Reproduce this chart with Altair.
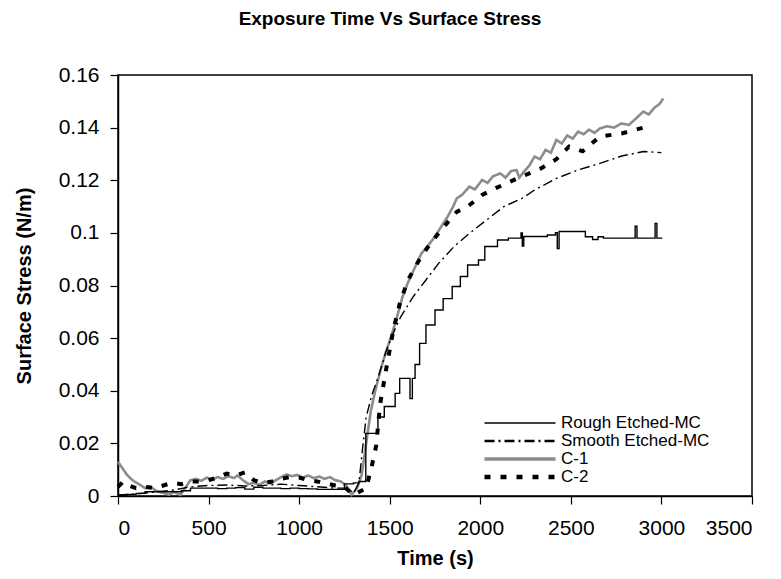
import altair as alt
import pandas as pd

series_names = ["Rough Etched-MC", "Smooth Etched-MC", "C-1", "C-2"]
series_colors = ["#000000", "#000000", "#8c8c8c", "#000000"]
series_dash = [[1, 0], [10, 4, 2, 4], [1, 0], [6, 10]]
series_width = [1.4, 1.4, 2.6, 4.0]
legend_width_range = [1.3, 4.7]

rough_t = [0, 50, 100, 150, 200, 250, 300, 350, 400, 450, 500, 550, 600, 650, 700, 750,
           800, 850, 900, 950, 1000, 1050, 1100, 1150, 1200, 1250, 1300, 1330, 1368, 1435,
           1470, 1530, 1555, 1612, 1625, 1640, 1665, 1700, 1750, 1795, 1845, 1890, 1930,
           1990, 2025, 2095, 2155, 2225, 2232, 2240, 2370, 2415, 2425, 2435, 2540, 2580,
           2620, 2650, 2680, 2855, 2865, 2965, 2975, 3005]
rough_v = [0.0004, 0.0006, 0.001, 0.0016, 0.0016, 0.0016, 0.0016, 0.002, 0.003, 0.003,
           0.003, 0.0028, 0.003, 0.0032, 0.0026, 0.0033, 0.003, 0.003, 0.0028, 0.003,
           0.0028, 0.0027, 0.0025, 0.0025, 0.0025, 0.0046, 0.005, 0.0055, 0.0238, 0.030,
           0.034, 0.039, 0.0447, 0.037, 0.0447, 0.050, 0.058, 0.065, 0.0707, 0.075, 0.0796,
           0.0834, 0.0878, 0.0897, 0.0948, 0.0973, 0.098, 0.100, 0.095, 0.0986, 0.0992,
           0.1001, 0.094, 0.1005, 0.1005, 0.0985, 0.0975, 0.0985, 0.098, 0.1025, 0.098,
           0.1036, 0.098, 0.098]

smooth_t = [0, 100, 200, 300, 400, 500, 600, 700, 800, 900, 1000, 1100, 1200, 1270, 1300,
            1330, 1350, 1370, 1400, 1440, 1480, 1520, 1560, 1630, 1700, 1770, 1855, 1940,
            2035, 2130, 2230, 2300, 2420, 2540, 2660, 2780, 2900, 3000]
smooth_v = [0.0004, 0.0008, 0.0015, 0.0022, 0.0035, 0.004, 0.0042, 0.0038, 0.004, 0.0045,
            0.004, 0.0035, 0.003, 0.003, 0.001, 0.005, 0.018, 0.030, 0.038, 0.046, 0.055,
            0.062, 0.068, 0.0758, 0.0821, 0.0884, 0.0948, 0.0998, 0.1049, 0.110, 0.1131,
            0.1163, 0.1207, 0.1239, 0.1264, 0.1292, 0.1309, 0.1305]

c1_t = [0, 20, 50, 80, 115, 150, 180, 210, 250, 280, 310, 345, 380, 400, 430, 460, 490,
        520, 550, 580, 610, 640, 660, 690, 720, 750, 780, 810, 840, 870, 900, 930, 960,
        990, 1020, 1050, 1080, 1110, 1140, 1170, 1200, 1230, 1260, 1290, 1320, 1345, 1370,
        1395, 1420, 1450, 1480, 1510, 1540, 1570, 1600, 1640, 1675, 1710, 1750, 1790, 1820,
        1850, 1870, 1900, 1940, 1970, 2010, 2040, 2070, 2110, 2140, 2170, 2200, 2215, 2240,
        2270, 2300, 2330, 2360, 2390, 2420, 2450, 2480, 2510, 2540, 2570, 2600, 2630, 2660,
        2700, 2740, 2780, 2820, 2860, 2900, 2930, 2960, 2990, 3010]
c1_v = [0.013, 0.011, 0.008, 0.006, 0.0045, 0.003, 0.0035, 0.002, 0.0012, 0.0005, 0.0015,
        0.0004, 0.004, 0.006, 0.0065, 0.0058, 0.007, 0.0062, 0.0072, 0.0065, 0.0075, 0.0068,
        0.0078, 0.006, 0.0045, 0.005, 0.0042, 0.0055, 0.0048, 0.006, 0.0072, 0.0082, 0.0075,
        0.008, 0.007, 0.0078, 0.0068, 0.0074, 0.0065, 0.0072, 0.006, 0.0055, 0.004, 0.0005,
        0.003, 0.008, 0.020, 0.032, 0.040, 0.048, 0.055, 0.061, 0.068, 0.0755, 0.081, 0.087,
        0.0922, 0.095, 0.0986, 0.103, 0.1062, 0.110, 0.1131, 0.1145, 0.1176, 0.1165, 0.1201,
        0.119, 0.1215, 0.1226, 0.121, 0.1235, 0.1239, 0.121, 0.1232, 0.1255, 0.129, 0.128,
        0.1315, 0.1305, 0.1353, 0.134, 0.137, 0.1358, 0.1385, 0.1375, 0.1392, 0.138, 0.1397,
        0.1405, 0.140, 0.1416, 0.141, 0.1435, 0.1461, 0.145, 0.1475, 0.149, 0.1511]

c2_t = [0, 30, 60, 100, 150, 200, 250, 300, 350, 400, 450, 500, 550, 600, 650, 700, 750,
        800, 850, 900, 950, 1000, 1050, 1100, 1150, 1200, 1250, 1300, 1370, 1400, 1425,
        1447, 1485, 1520, 1555, 1600, 1665, 1725, 1795, 1870, 1930, 2010, 2085, 2205, 2335,
        2420, 2490, 2565, 2660, 2780, 2900]
c2_v = [0.0035, 0.0055, 0.004, 0.003, 0.0035, 0.003, 0.004, 0.005, 0.0045, 0.0055, 0.0055,
        0.006, 0.007, 0.0085, 0.0078, 0.009, 0.006, 0.005, 0.0055, 0.0065, 0.0072, 0.007,
        0.006, 0.0055, 0.0048, 0.004, 0.0035, 0.0004, 0.003, 0.011, 0.019, 0.035, 0.050,
        0.063, 0.073, 0.082, 0.090, 0.096, 0.102, 0.108, 0.110, 0.1144, 0.117, 0.1207,
        0.1245, 0.128, 0.1328, 0.131, 0.1366, 0.1378, 0.140]

series_data = [(rough_t, rough_v), (smooth_t, smooth_v), (c1_t, c1_v), (c2_t, c2_v)]
frames = []
for name, (ts, vs) in zip(series_names, series_data):
    frames.append(pd.DataFrame({"t": ts, "v": vs, "series": name}))
df = pd.concat(frames, ignore_index=True)

x_ticks = list(range(0, 3501, 500))
y_ticks = [0, 0.02, 0.04, 0.06, 0.08, 0.1, 0.12, 0.14, 0.16]

legend = alt.Legend(title=None, orient="none", legendX=364, legendY=339)

x_enc = alt.X("t:Q", scale=alt.Scale(domain=[0, 3500], nice=False),
              axis=alt.Axis(title="Time (s)", values=x_ticks, format="d", labelPadding=13,
                            titleX=317, titleY=62, titleAlign="center",
                            titleBaseline="middle"))
y_enc = alt.Y("v:Q", scale=alt.Scale(domain=[0, 0.16], nice=False),
              axis=alt.Axis(title="Surface Stress (N/m)", values=y_ticks, format=".2~f",
                            labelPadding=11, titleX=-94, titleY=210.5, titleAngle=-90,
                            titleAlign="center", titleBaseline="middle"))
color_enc = alt.Color("series:N", scale=alt.Scale(domain=series_names, range=series_colors),
                      legend=legend)
dash_enc = alt.StrokeDash("series:N", scale=alt.Scale(domain=series_names, range=series_dash),
                          legend=legend)

base = alt.Chart(df).encode(x=x_enc, y=y_enc, color=color_enc, strokeDash=dash_enc)

layers = []
for i, name in enumerate(series_names):
    interp = "step-after" if i == 0 else "linear"
    layers.append(
        base.transform_filter(alt.datum.series == name)
        .mark_line(interpolate=interp, strokeWidth=series_width[i])
    )

# empty layer that only carries the stroke-width scale for the legend symbols
legend_layer = base.transform_filter("datum.t < 0").mark_line().encode(
    strokeWidth=alt.StrokeWidth(
        "series:N",
        scale=alt.Scale(type="point", domain=series_names, range=legend_width_range),
        legend=legend,
    )
)

ordered = [layers[2], layers[3], layers[1], layers[0], legend_layer]
chart = alt.layer(*ordered).properties(
    width=634, height=421,
    autosize=alt.AutoSizeParams(type="none"),
    padding={"left": 118, "top": 75, "right": 29, "bottom": 83},
    title=alt.Title("Exposure Time Vs Surface Stress", fontSize=19, font="Liberation Sans",
                    fontWeight="bold", anchor="middle", offset=16, dx=-45,
                    color="#000000", baseline="bottom"),
).configure_view(stroke="#000000", strokeWidth=1.5).configure_axis(
    grid=False, domainColor="#000000", domainWidth=1.5, tickColor="#000000", tickSize=8,
    tickWidth=1.2, labelFont="Liberation Sans", labelFontSize=21, labelColor="#000000",
    titleFont="Liberation Sans", titleFontSize=20, titleFontWeight="bold",
    titleColor="#000000",
).configure_legend(
    symbolType="stroke", symbolSize=5041, clipHeight=18, rowPadding=0, padding=0,
    labelFont="Liberation Sans", labelFontSize=17, labelColor="#000000", labelOffset=3,
    labelLimit=300,
)

chart.save("out.html", embed_options={"renderer": "svg", "actions": False})
